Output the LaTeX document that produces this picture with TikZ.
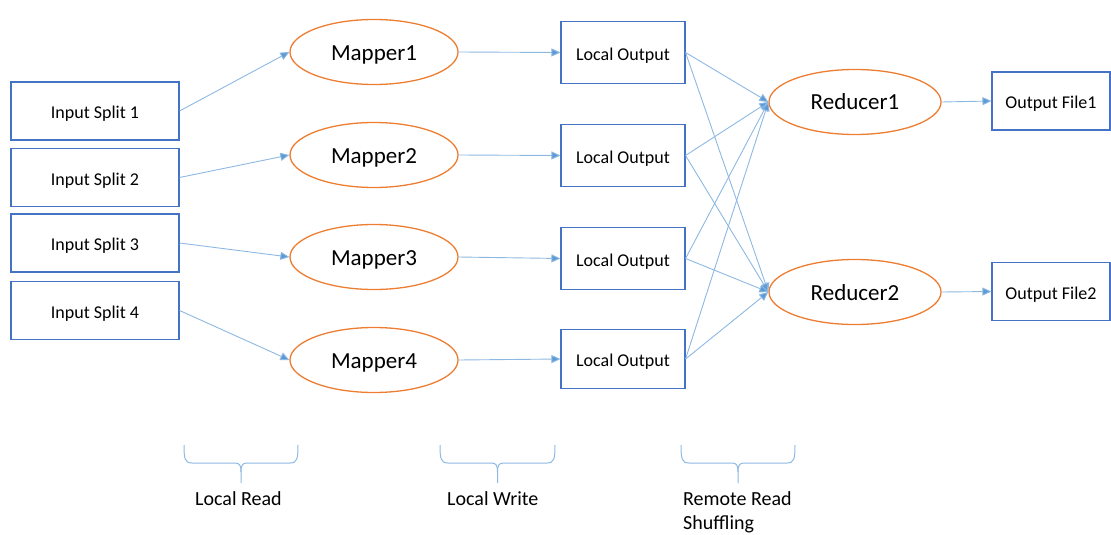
\documentclass[tikz,border=0pt]{standalone}
\usepackage{fontspec}
\setmainfont{Carlito}
\usetikzlibrary{shapes.geometric,arrows.meta}
\definecolor{boxblue}{HTML}{4472C4}
\definecolor{ellorange}{HTML}{ED7D31}
\definecolor{arrowblue}{HTML}{5B9BD5}
\definecolor{lineblue}{HTML}{8DB8E2}
\tikzset{
  inbox/.style={draw=boxblue, line width=1.1pt, minimum width=168pt, minimum height=58pt, inner sep=0pt, text height=17pt, text depth=2pt, font=\fontsize{18}{20}\selectfont},
  outbox/.style={draw=boxblue, line width=1.1pt, minimum width=124pt, minimum height=62pt, inner sep=0pt, text height=17pt, text depth=2pt, font=\fontsize{18}{20}\selectfont},
  filebox/.style={draw=boxblue, line width=1.1pt, minimum width=118pt, minimum height=58pt, inner sep=0pt, text height=17pt, text depth=2pt, font=\fontsize{18}{20}\selectfont},
  mapell/.style={ellipse, draw=ellorange, line width=1.3pt, minimum width=168pt, minimum height=65pt, inner sep=0pt, text height=20pt, text depth=4pt, font=\fontsize{23}{26}\selectfont},
  conn/.style={draw=lineblue, line width=0.9pt, -{Triangle[length=9pt,width=8pt,fill=arrowblue]}},
  lbl/.style={font=\fontsize{20}{24}\selectfont, align=left, inner sep=0pt},
}
\begin{document}
\begin{tikzpicture}[x=1pt,y=-1pt]
\useasboundingbox (0,0) rectangle (1111,535);
% input splits
\node[inbox] (in1) at (95,111) {Input Split 1};
\node[inbox] (in2) at (95,177.5) {Input Split 2};
\node[inbox] (in3) at (95,243) {Input Split 3};
\node[inbox] (in4) at (95,310.5) {Input Split 4};
% mappers
\node[mapell] (m1) at (374,52) {Mapper1};
\node[mapell] (m2) at (374,155) {Mapper2};
\node[mapell] (m3) at (374,257) {Mapper3};
\node[mapell] (m4) at (374,360) {Mapper4};
% local outputs
\node[outbox] (o1) at (623,52.5) {Local Output};
\node[outbox] (o2) at (623,155.5) {Local Output};
\node[outbox] (o3) at (623,258.5) {Local Output};
\node[outbox, minimum height=59pt] (o4) at (623,359) {Local Output};
% reducers
\node[mapell, minimum width=172pt] (r1) at (855,102) {Reducer1};
\node[mapell, minimum width=172pt] (r2) at (855,292) {Reducer2};
% output files
\node[filebox] (f1) at (1051,101) {Output File1};
\node[filebox] (f2) at (1051,291.5) {Output File2};
% connectors
\draw[conn] (in1.east) -- (m1.west);
\draw[conn] (in2.east) -- (m2.west);
\draw[conn] (in3.east) -- (m3.west);
\draw[conn] (in4.east) -- (m4.west);
\draw[conn] (m1.east) -- (o1.west);
\draw[conn] (m2.east) -- (o2.west);
\draw[conn] (m3.east) -- (o3.west);
\draw[conn] (m4.east) -- (o4.west);
\foreach \o in {o1,o2,o3,o4}{
  \draw[conn] (\o.east) -- (r1.west);
  \draw[conn] (\o.east) -- (r2.west);
}
\draw[conn] (r1.east) -- (f1.west);
\draw[conn] (r2.east) -- (f2.west);
% braces
\foreach \a/\b in {184/298, 440/555, 681/795}{
  \pgfmathsetmacro{\m}{(\a+\b)/2}
  \draw[draw=lineblue, line width=1pt] (\a,445) .. controls (\a,459) and (\a+1,463) .. (\a+8,463) -- (\m-6,463) .. controls (\m-1,463) and (\m,466) .. (\m,472) -- (\m,483);
  \draw[draw=lineblue, line width=1pt] (\b,445) .. controls (\b,459) and (\b-1,463) .. (\b-8,463) -- (\m+6,463) .. controls (\m+1,463) and (\m,466) .. (\m,472);
}
% labels
\node[lbl, anchor=base west] (l1) at (195,505) {Local Read};
\node[lbl, anchor=base west] (l2) at (447,505) {Local Write};
\node[lbl, anchor=base west] (l3) at (683,505) {Remote Read};
\node[lbl, anchor=base west] (l4) at (683,529) {Shuffling};
\end{tikzpicture}
\end{document}
